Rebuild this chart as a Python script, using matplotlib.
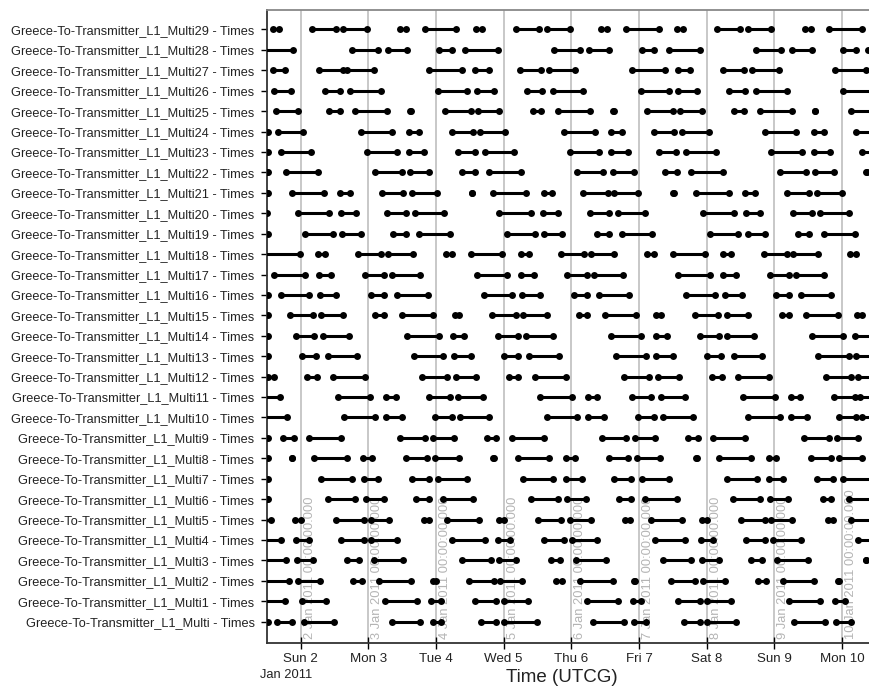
import datetime as dt
import matplotlib
matplotlib.use("Agg")
import matplotlib.pyplot as plt
import matplotlib.dates as mdates
import matplotlib.transforms as mtrans
from matplotlib.ticker import FuncFormatter

plt.rcParams['font.family'] = ['Liberation Sans', 'DejaVu Sans']

# Access intervals, as fractional day of January 2011 (2.0 = 2 Jan 00:00 UTCG)
multi = [(1.45, 1.52), (1.645, 1.874), (2.046, 2.487), (3.345, 3.763), (3.947, 4.072), (4.662, 4.891),
         (5.005, 5.492), (6.322, 6.780), (6.923, 7.106), (7.667, 7.896), (8.011, 8.440), (9.298, 9.745),
         (9.917, 10.140)]
multi1 = [(1.40, 1.760), (2.012, 2.372), (3.248, 3.718), (3.918, 4.072), (4.576, 4.891), (5.005, 5.366),
          (6.225, 6.683), (6.912, 7.026), (7.581, 7.896), (7.999, 8.365), (9.213, 9.671), (9.900, 10.043)]
multi2 = [(1.40, 1.829), (1.955, 2.287), (2.773, 2.905), (3.157, 3.632), (3.947, 4.004), (4.490, 4.851),
          (4.948, 5.275), (5.767, 5.864), (6.133, 6.608), (6.930, 6.940), (7.467, 7.827), (7.942, 8.268),
          (8.755, 8.881), (9.127, 9.585), (9.940, 9.950)]
multi3 = [(1.40, 1.783), (1.943, 2.184), (2.687, 2.859), (3.088, 3.517), (4.376, 4.805), (4.931, 5.177),
          (5.692, 5.835), (6.065, 6.511), (7.352, 7.770), (7.925, 8.182), (8.652, 8.812), (9.045, 9.494),
          (10.352, 10.362)]
multi4 = [(1.40, 1.714), (1.932, 2.115), (2.601, 2.928), (3.031, 3.420), (4.233, 4.719), (4.920, 5.091),
          (5.595, 5.893), (6.007, 6.379), (7.238, 7.679), (7.913, 8.096), (8.583, 8.858), (8.984, 9.396),
          (10.243, 10.5)]
multi5 = [(1.45, 1.554), (1.914, 2.000), (2.527, 2.928), (3.031, 3.305), (3.821, 3.901), (4.164, 4.633),
          (4.931, 5.005), (5.503, 5.847), (5.979, 6.293), (6.797, 6.866), (7.181, 7.638), (7.925, 8.011),
          (8.514, 8.858), (8.955, 9.258), (9.797, 9.871), (10.140, 10.5)]
multi6 = [(1.50, 1.51), (2.401, 2.802), (2.962, 3.231), (3.706, 3.901), (4.107, 4.548), (5.406, 5.807),
          (5.939, 6.219), (6.705, 6.877), (7.095, 7.564), (8.383, 8.783), (8.938, 9.201), (9.716, 9.842),
          (10.100, 10.5)]
multi7 = [(1.45, 1.514), (2.298, 2.756), (2.928, 3.134), (3.643, 3.889), (4.032, 4.450), (5.292, 5.733),
          (5.921, 6.150), (6.625, 6.877), (7.038, 7.438), (8.297, 8.743), (8.915, 9.127), (9.630, 9.871),
          (10.014, 10.5)]
multi8 = [(1.45, 1.514), (1.864, 1.874), (2.201, 2.676), (2.916, 3.048), (3.557, 3.861), (3.987, 4.336),
          (4.840, 4.850), (5.206, 5.675), (5.921, 6.053), (6.551, 6.837), (6.969, 7.312), (7.845, 7.855),
          (8.182, 8.652), (8.915, 9.029), (9.545, 9.831), (9.957, 10.300)]
multi9 = [(1.45, 1.514), (1.743, 1.897), (2.115, 2.601), (3.460, 3.832), (3.947, 4.261), (4.748, 4.891),
          (5.120, 5.595), (6.448, 6.809), (6.935, 7.238), (7.724, 7.867), (8.096, 8.566), (9.442, 9.814),
          (9.928, 10.243)]
multi10 = [(1.40, 1.800), (2.641, 3.099), (3.260, 3.489), (3.981, 4.233), (4.359, 4.788), (5.635, 6.076),
           (6.248, 6.477), (6.992, 7.221), (7.352, 7.793), (8.611, 9.087), (9.241, 9.488), (9.957, 10.214),
           (10.300, 10.5)]
multi11 = [(1.40, 1.686), (2.556, 3.019), (3.260, 3.403), (3.889, 4.210), (4.324, 4.691), (5.538, 6.007),
           (6.253, 6.379), (6.894, 7.181), (7.324, 7.679), (8.537, 9.012), (9.241, 9.384), (9.882, 10.186),
           (10.272, 10.5)]
multi12 = [(1.514, 1.600), (2.098, 2.241), (2.470, 2.945), (3.786, 4.164), (4.290, 4.588), (5.080, 5.217),
           (5.463, 5.921), (6.780, 7.152), (7.278, 7.598), (8.079, 8.228), (8.457, 8.926), (9.768, 10.128),
           (10.243, 10.5)]
multi13 = [(1.45, 1.514), (2.018, 2.218), (2.401, 2.830), (3.672, 4.107), (4.261, 4.519), (5.011, 5.217),
           (5.378, 5.824), (6.665, 7.106), (7.249, 7.507), (7.999, 8.211), (8.400, 8.823), (9.653, 10.100),
           (10.214, 10.5)]
multi14 = [(1.45, 1.514), (1.932, 2.201), (2.332, 2.716), (3.575, 4.050), (4.244, 4.416), (4.920, 5.206),
           (5.332, 5.721), (6.580, 7.026), (7.255, 7.410), (7.907, 8.182), (8.308, 8.697), (9.556, 10.014),
           (10.186, 10.5)]
multi15 = [(1.45, 1.514), (1.840, 2.184), (2.304, 2.618), (3.099, 3.231), (3.489, 3.958), (4.273, 4.336),
           (4.822, 5.177), (5.292, 5.635), (6.110, 6.225), (6.494, 6.952), (7.249, 7.324), (7.827, 8.171),
           (8.297, 8.611), (9.110, 9.224), (9.470, 9.940), (10.226, 10.300)]
multi16 = [(1.45, 1.514), (1.703, 2.126), (2.287, 2.527), (3.042, 3.231), (3.420, 3.878), (4.702, 5.120),
           (5.263, 5.538), (6.036, 6.236), (6.408, 6.854), (7.696, 8.125), (8.268, 8.526), (9.029, 9.224),
           (9.396, 9.842)]
multi17 = [(1.600, 2.058), (2.275, 2.447), (2.945, 3.231), (3.345, 3.763), (4.605, 5.046), (5.252, 5.446),
           (5.939, 6.225), (6.339, 6.763), (7.581, 8.056), (8.240, 8.440), (8.938, 9.213), (9.327, 9.728)]
multi18 = [(1.40, 1.983), (2.247, 2.361), (2.848, 3.191), (3.288, 3.660), (4.147, 4.233), (4.519, 4.977),
           (5.252, 5.378), (5.847, 6.190), (6.293, 6.637), (7.123, 7.221), (7.507, 7.982), (8.240, 8.354),
           (8.841, 9.184), (9.270, 9.642), (10.117, 10.214)]
multi19 = [(1.45, 1.52), (2.069, 2.475), (2.613, 2.888), (3.363, 3.557), (3.746, 4.204), (5.046, 5.463),
           (5.595, 5.864), (6.379, 6.551), (6.751, 7.198), (8.056, 8.457), (8.611, 8.869), (9.356, 9.510),
           (9.728, 10.186)]
multi20 = [(1.45, 1.50), (1.955, 2.412), (2.601, 2.813), (3.271, 3.557), (3.689, 4.118), (4.931, 5.406),
           (5.578, 5.807), (6.282, 6.551), (6.683, 7.095), (7.942, 8.400), (8.583, 8.783), (9.270, 9.556),
           (9.682, 10.100)]
multi21 = [(1.50, 1.51), (1.874, 2.344), (2.573, 2.733), (3.202, 3.517), (3.649, 4.015), (4.525, 4.535),
           (4.845, 5.332), (5.595, 5.710), (6.179, 6.540), (6.637, 6.980), (7.502, 7.512), (7.839, 8.325),
           (8.571, 8.709), (9.184, 9.510), (9.630, 9.997)]
multi22 = [(1.50, 1.51), (1.783, 2.258), (3.099, 3.500), (3.615, 3.901), (4.376, 4.576), (4.777, 5.252),
           (6.076, 6.465), (6.608, 6.923), (7.381, 7.564), (7.770, 8.240), (9.087, 9.470), (9.602, 9.888),
           (10.36, 10.37)]
multi23 = [(1.45, 1.52), (1.714, 2.144), (2.973, 3.420), (3.603, 3.821), (4.319, 4.576), (4.719, 5.149),
           (5.979, 6.408), (6.580, 6.837), (7.295, 7.553), (7.696, 8.137), (8.955, 9.413), (9.585, 9.825),
           (10.300, 10.5)]
multi24 = [(1.45, 1.514), (1.668, 2.029), (2.888, 3.345), (3.592, 3.746), (4.233, 4.548), (4.645, 5.023),
           (5.893, 6.351), (6.580, 6.751), (7.221, 7.524), (7.638, 8.039), (8.869, 9.327), (9.585, 9.728),
           (10.214, 10.5)]
multi25 = [(1.628, 1.955), (2.412, 2.573), (2.802, 3.271), (3.615, 3.625), (4.130, 4.519), (4.616, 4.931),
           (5.435, 5.549), (5.807, 6.282), (6.615, 6.625), (7.123, 7.495), (7.610, 7.925), (8.411, 8.554),
           (8.783, 9.258), (9.597, 9.607), (10.128, 10.5)]
multi26 = [(1.600, 1.857), (2.355, 2.573), (2.733, 3.191), (4.032, 4.450), (4.605, 4.862), (5.338, 5.561),
           (5.733, 6.179), (7.026, 7.438), (7.581, 7.850), (8.325, 8.571), (8.726, 9.184), (10.014, 10.5)]
multi27 = [(1.588, 1.771), (2.275, 2.630), (2.676, 3.088), (3.901, 4.376), (4.576, 4.777), (5.234, 5.549),
           (5.664, 6.053), (6.894, 7.381), (7.581, 7.753), (8.240, 8.554), (8.669, 9.069), (9.900, 10.357)]
multi28 = [(1.40, 1.886), (2.756, 3.134), (3.288, 3.575), (4.050, 4.233), (4.433, 4.920), (5.750, 6.133),
           (6.265, 6.551), (7.038, 7.221), (7.438, 7.896), (8.726, 9.098), (9.258, 9.556), (10.014, 10.214),
           (10.38, 10.5)]
multi29 = [(1.588, 1.680), (2.172, 2.516), (2.630, 2.973), (3.460, 3.557), (3.832, 4.290), (4.588, 4.679),
           (5.177, 5.521), (5.635, 5.979), (6.437, 6.522), (6.809, 7.295), (7.564, 7.656), (8.154, 8.497),
           (8.611, 8.955), (9.453, 9.545), (9.814, 10.300)]

rows = [multi, multi1, multi2, multi3, multi4, multi5, multi6, multi7, multi8, multi9,
        multi10, multi11, multi12, multi13, multi14, multi15, multi16, multi17, multi18, multi19,
        multi20, multi21, multi22, multi23, multi24, multi25, multi26, multi27, multi28, multi29]

row_labels = [
    "Greece-To-Transmitter_L1_Multi - Times",
    "Greece-To-Transmitter_L1_Multi1 - Times",
    "Greece-To-Transmitter_L1_Multi2 - Times",
    "Greece-To-Transmitter_L1_Multi3 - Times",
    "Greece-To-Transmitter_L1_Multi4 - Times",
    "Greece-To-Transmitter_L1_Multi5 - Times",
    "Greece-To-Transmitter_L1_Multi6 - Times",
    "Greece-To-Transmitter_L1_Multi7 - Times",
    "Greece-To-Transmitter_L1_Multi8 - Times",
    "Greece-To-Transmitter_L1_Multi9 - Times",
    "Greece-To-Transmitter_L1_Multi10 - Times",
    "Greece-To-Transmitter_L1_Multi11 - Times",
    "Greece-To-Transmitter_L1_Multi12 - Times",
    "Greece-To-Transmitter_L1_Multi13 - Times",
    "Greece-To-Transmitter_L1_Multi14 - Times",
    "Greece-To-Transmitter_L1_Multi15 - Times",
    "Greece-To-Transmitter_L1_Multi16 - Times",
    "Greece-To-Transmitter_L1_Multi17 - Times",
    "Greece-To-Transmitter_L1_Multi18 - Times",
    "Greece-To-Transmitter_L1_Multi19 - Times",
    "Greece-To-Transmitter_L1_Multi20 - Times",
    "Greece-To-Transmitter_L1_Multi21 - Times",
    "Greece-To-Transmitter_L1_Multi22 - Times",
    "Greece-To-Transmitter_L1_Multi23 - Times",
    "Greece-To-Transmitter_L1_Multi24 - Times",
    "Greece-To-Transmitter_L1_Multi25 - Times",
    "Greece-To-Transmitter_L1_Multi26 - Times",
    "Greece-To-Transmitter_L1_Multi27 - Times",
    "Greece-To-Transmitter_L1_Multi28 - Times",
    "Greece-To-Transmitter_L1_Multi29 - Times",
]

day_marks = [2, 3, 4, 5, 6, 7, 8, 9, 10]
x_start_day = 1.5
x_end_day = 10.40

base = mdates.date2num(dt.datetime(2011, 1, 1))


def to_num(day):
    return base + (day - 1.0)


fig = plt.figure(figsize=(8.69, 6.87), dpi=100)
ax = fig.add_axes([267 / 869, 1 - 643 / 687, 1 - 267 / 869, (643 - 10) / 687])

# daily reference lines and their vertical labels
lab_tr = mtrans.blended_transform_factory(ax.transData, ax.transAxes) + \
    mtrans.ScaledTranslation(3 / 100, 0, fig.dpi_scale_trans)
for d in day_marks:
    x = to_num(d)
    ax.axvline(x, color='#c4c4c4', lw=1.3, zorder=1)
    t = dt.datetime(2011, 1, 1) + dt.timedelta(days=d - 1)
    ax.text(x, 0.006, f"{t.day} Jan {t.year} 00:00:00.000", rotation=90,
            transform=lab_tr, ha='left', va='bottom', fontsize=9.3,
            color='#b4b4b4', zorder=1)

for yi, intervals in enumerate(rows):
    xs0 = [to_num(s) for s, e in intervals]
    xs1 = [to_num(e) for s, e in intervals]
    ax.hlines([yi] * len(intervals), xs0, xs1, colors='black', lw=2.2, zorder=3)
    ax.plot(xs0 + xs1, [yi] * (2 * len(intervals)), 'o', color='black',
            markersize=5.0, markeredgewidth=0, zorder=4, clip_on=True)

ax.set_xlim(to_num(x_start_day), to_num(x_end_day))
ax.set_ylim(-1.04, 29.95)

ax.set_yticks(range(len(row_labels)))
ax.set_yticklabels(row_labels, fontsize=9.2, color='#222222')
ax.tick_params(axis='y', direction='out', length=4, width=1, pad=5)

ax.set_xticks([to_num(d) for d in day_marks])
ax.xaxis.set_major_formatter(FuncFormatter(
    lambda v, p: f"{mdates.num2date(v):%a} {mdates.num2date(v).day}"))
ax.tick_params(axis='x', direction='inout', length=8, width=1, labelsize=9.6, pad=3,
               labelcolor='#222222')

for s in ('left', 'bottom'):
    ax.spines[s].set_color('#333333')
    ax.spines[s].set_linewidth(1.3)
ax.spines['top'].set_color('#888888')
ax.spines['top'].set_linewidth(1.3)
ax.spines['right'].set_visible(False)

fig.text(286 / 869, 1 - 675 / 687, "Jan 2011", ha='center', va='center',
         fontsize=9.3, color='#222222')
fig.text(562 / 869, 1 - 677 / 687, "Time (UTCG)", ha='center', va='center',
         fontsize=13.5, color='#222222')

fig.savefig("out.png", dpi=100)
